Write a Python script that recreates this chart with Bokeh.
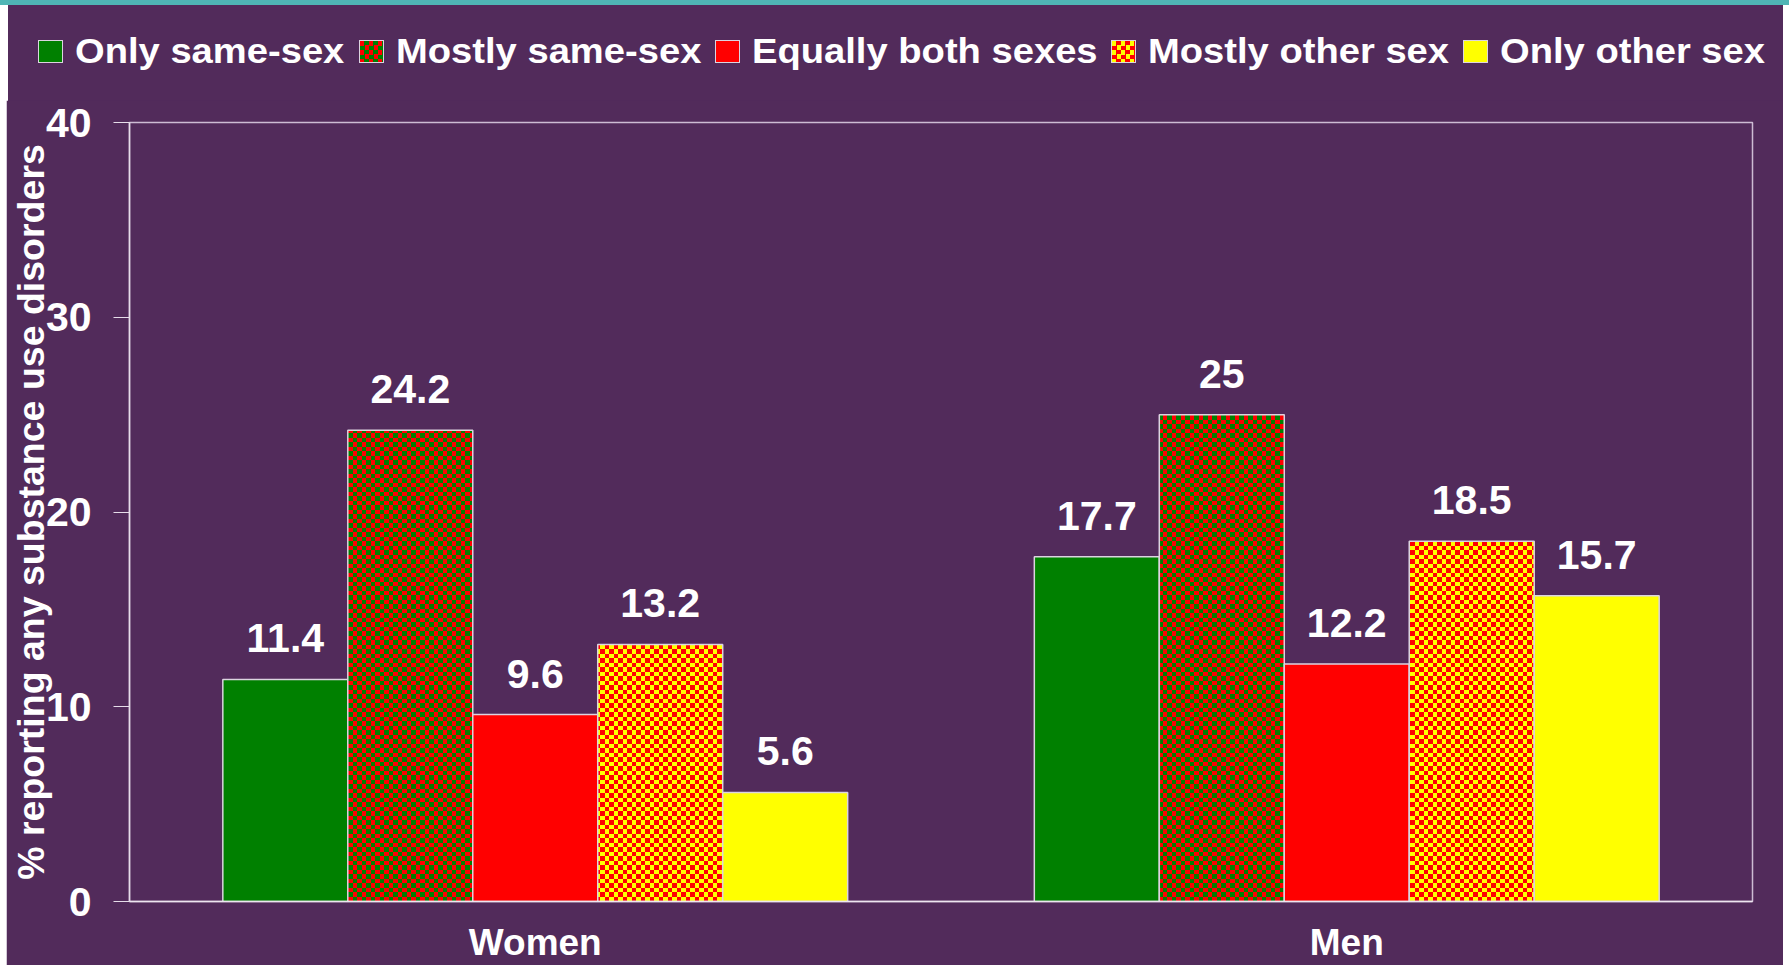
from bokeh.plotting import figure
from bokeh.models import (ColumnDataSource, FactorRange, CanvasTexture, Div, FixedTicker)
from bokeh.layouts import column
from bokeh.transform import dodge
from bokeh.core.properties import value
from bokeh.embed import file_html
from bokeh.resources import INLINE

# ---------------- data ----------------
categories = ["Women", "Men"]
series_names = ["Only same-sex", "Mostly same-sex", "Equally both sexes",
                "Mostly other sex", "Only other sex"]
only_same_sex = [11.4, 17.7]
mostly_same_sex = [24.2, 25]
equally_both = [9.6, 12.2]
mostly_other_sex = [13.2, 18.5]
only_other_sex = [5.6, 15.7]
y_ticks = [0, 10, 20, 30, 40]

# ---------------- style ----------------
BG = "#522B5B"
TEAL = "#4FB5B5"
FONT = "Liberation Sans"
fills = ["#008000", "#FF0000", "#FF0000", "#FFFF00", "#FFFF00"]
hatch_cols = [None, "#008000", None, "#FF0000", None]
offsets = [-0.308, -0.154, 0.0, 0.154, 0.308]
BAR_W = 0.154
legend_swatch_left = [30, 351, 707, 1103, 1455]   # px inside the legend strip


def checker_texture(color):
    return CanvasTexture(code="""
var c = arguments[0];
var cv = c.canvas;
cv.width = 9; cv.height = 9;
c.setTransform(1, 0, 0, 1, 0, 0);
c.clearRect(0, 0, 9, 9);
c.fillStyle = "%s";
c.fillRect(0, 0, 5, 5);
c.fillRect(5, 5, 4, 4);
""" % color)


textures = {"#008000": checker_texture("#008000"), "#FF0000": checker_texture("#FF0000")}

data = {"cat": categories}
keys = ["s0", "s1", "s2", "s3", "s4"]
all_series = [only_same_sex, mostly_same_sex, equally_both, mostly_other_sex, only_other_sex]
for k, vals in zip(keys, all_series):
    data[k] = vals
    data[k + "_lbl"] = [f"{v:g}" for v in vals]
source = ColumnDataSource(data)


def bar_style(i):
    kw = dict(fill_color=fills[i], line_color="#DCD4E0", line_width=1.5)
    if hatch_cols[i]:
        kw.update(hatch_pattern=value("checker"),
                  hatch_extra={"checker": textures[hatch_cols[i]]},
                  hatch_color=hatch_cols[i], hatch_scale=9, hatch_alpha=1.0)
    return kw


# ---------------- main chart ----------------
p = figure(x_range=FactorRange(factors=categories, range_padding=0),
           y_range=(0, 40),
           width=1777, height=865,
           output_backend="svg", toolbar_location=None,
           min_border_left=123, min_border_right=31,
           min_border_top=22, min_border_bottom=63)
p.background_fill_color = BG
p.border_fill_color = BG
p.outline_line_color = "#CDBCD4"
p.outline_line_width = 1.5
p.grid.visible = False
p.margin = (-2, 0, 0, 6)

for i, k in enumerate(keys):
    p.vbar(x=dodge("cat", offsets[i], range=p.x_range), top=k, width=BAR_W,
           source=source, **bar_style(i))
    p.text(x=dodge("cat", offsets[i], range=p.x_range), y=k, text=k + "_lbl",
           source=source, text_align="center", text_baseline="alphabetic",
           y_offset=-41, text_color="white", text_font=value(FONT),
           text_font_style="bold", text_font_size="41px")

ya = p.yaxis[0]
ya.ticker = FixedTicker(ticks=y_ticks)
ya.minor_tick_line_color = None
ya.major_tick_out = 16
ya.major_tick_in = 0
ya.major_tick_line_color = "#E6DDEA"
ya.axis_line_color = "#E6DDEA"
ya.axis_line_width = 1.5
ya.major_label_text_font = FONT
ya.major_label_text_font_style = "bold"
ya.major_label_text_font_size = "41px"
ya.major_label_text_color = "white"
ya.major_label_standoff = 22
ya.axis_label = "% reporting any substance use disorders"
ya.axis_label_text_font = FONT
ya.axis_label_text_font_style = "bold"
ya.axis_label_text_font_size = "37.5px"
ya.axis_label_text_color = "white"
ya.axis_label_standoff = -9

xa = p.xaxis[0]
xa.major_tick_out = 0
xa.major_tick_in = 0
xa.major_tick_line_color = None
xa.axis_line_color = "#EDE6F0"
xa.axis_line_width = 1.5
xa.major_label_text_font = FONT
xa.major_label_text_font_style = "bold"
xa.major_label_text_font_size = "37px"
xa.major_label_text_color = "white"
xa.major_label_standoff = 20

# ---------------- legend strip (HTML) ----------------
def swatch_css(i):
    css = "background-color:%s;" % fills[i]
    if hatch_cols[i]:
        h = hatch_cols[i]
        css += ("background-image:conic-gradient(%s 0 25%%, transparent 0 50%%, "
                "%s 0 75%%, transparent 0);background-size:9px 9px;" % (h, h))
    return css


items_html = ""
for i, name in enumerate(series_names):
    x0 = legend_swatch_left[i]
    items_html += (
        '<div style="position:absolute;left:%dpx;top:35px;width:25px;height:23px;'
        'box-sizing:border-box;border:1px solid #DCD4E0;%s"></div>' % (x0, swatch_css(i)))
    items_html += (
        '<div style="position:absolute;left:%dpx;top:28px;white-space:nowrap;'
        'font-family:\'Liberation Sans\';font-weight:bold;font-size:35px;line-height:35px;'
        'color:#FFFFFF;transform:scaleX(1.09);transform-origin:left center;">%s</div>'
        % (x0 + 37, name))

legend_div = Div(text='<div style="position:relative;width:1775px;height:98px;'
                      'background-color:%s;overflow:hidden;">%s</div>' % (BG, items_html),
                 width=1775, height=97, margin=(0, 0, 0, 8),
                 styles={"background-color": BG, "overflow": "hidden"})

top_strip = Div(text="", width=1789, height=5, margin=0,
                styles={"background-color": TEAL})
layout = column(top_strip, legend_div, p)

open("out.html", "w").write(file_html(layout, INLINE))
